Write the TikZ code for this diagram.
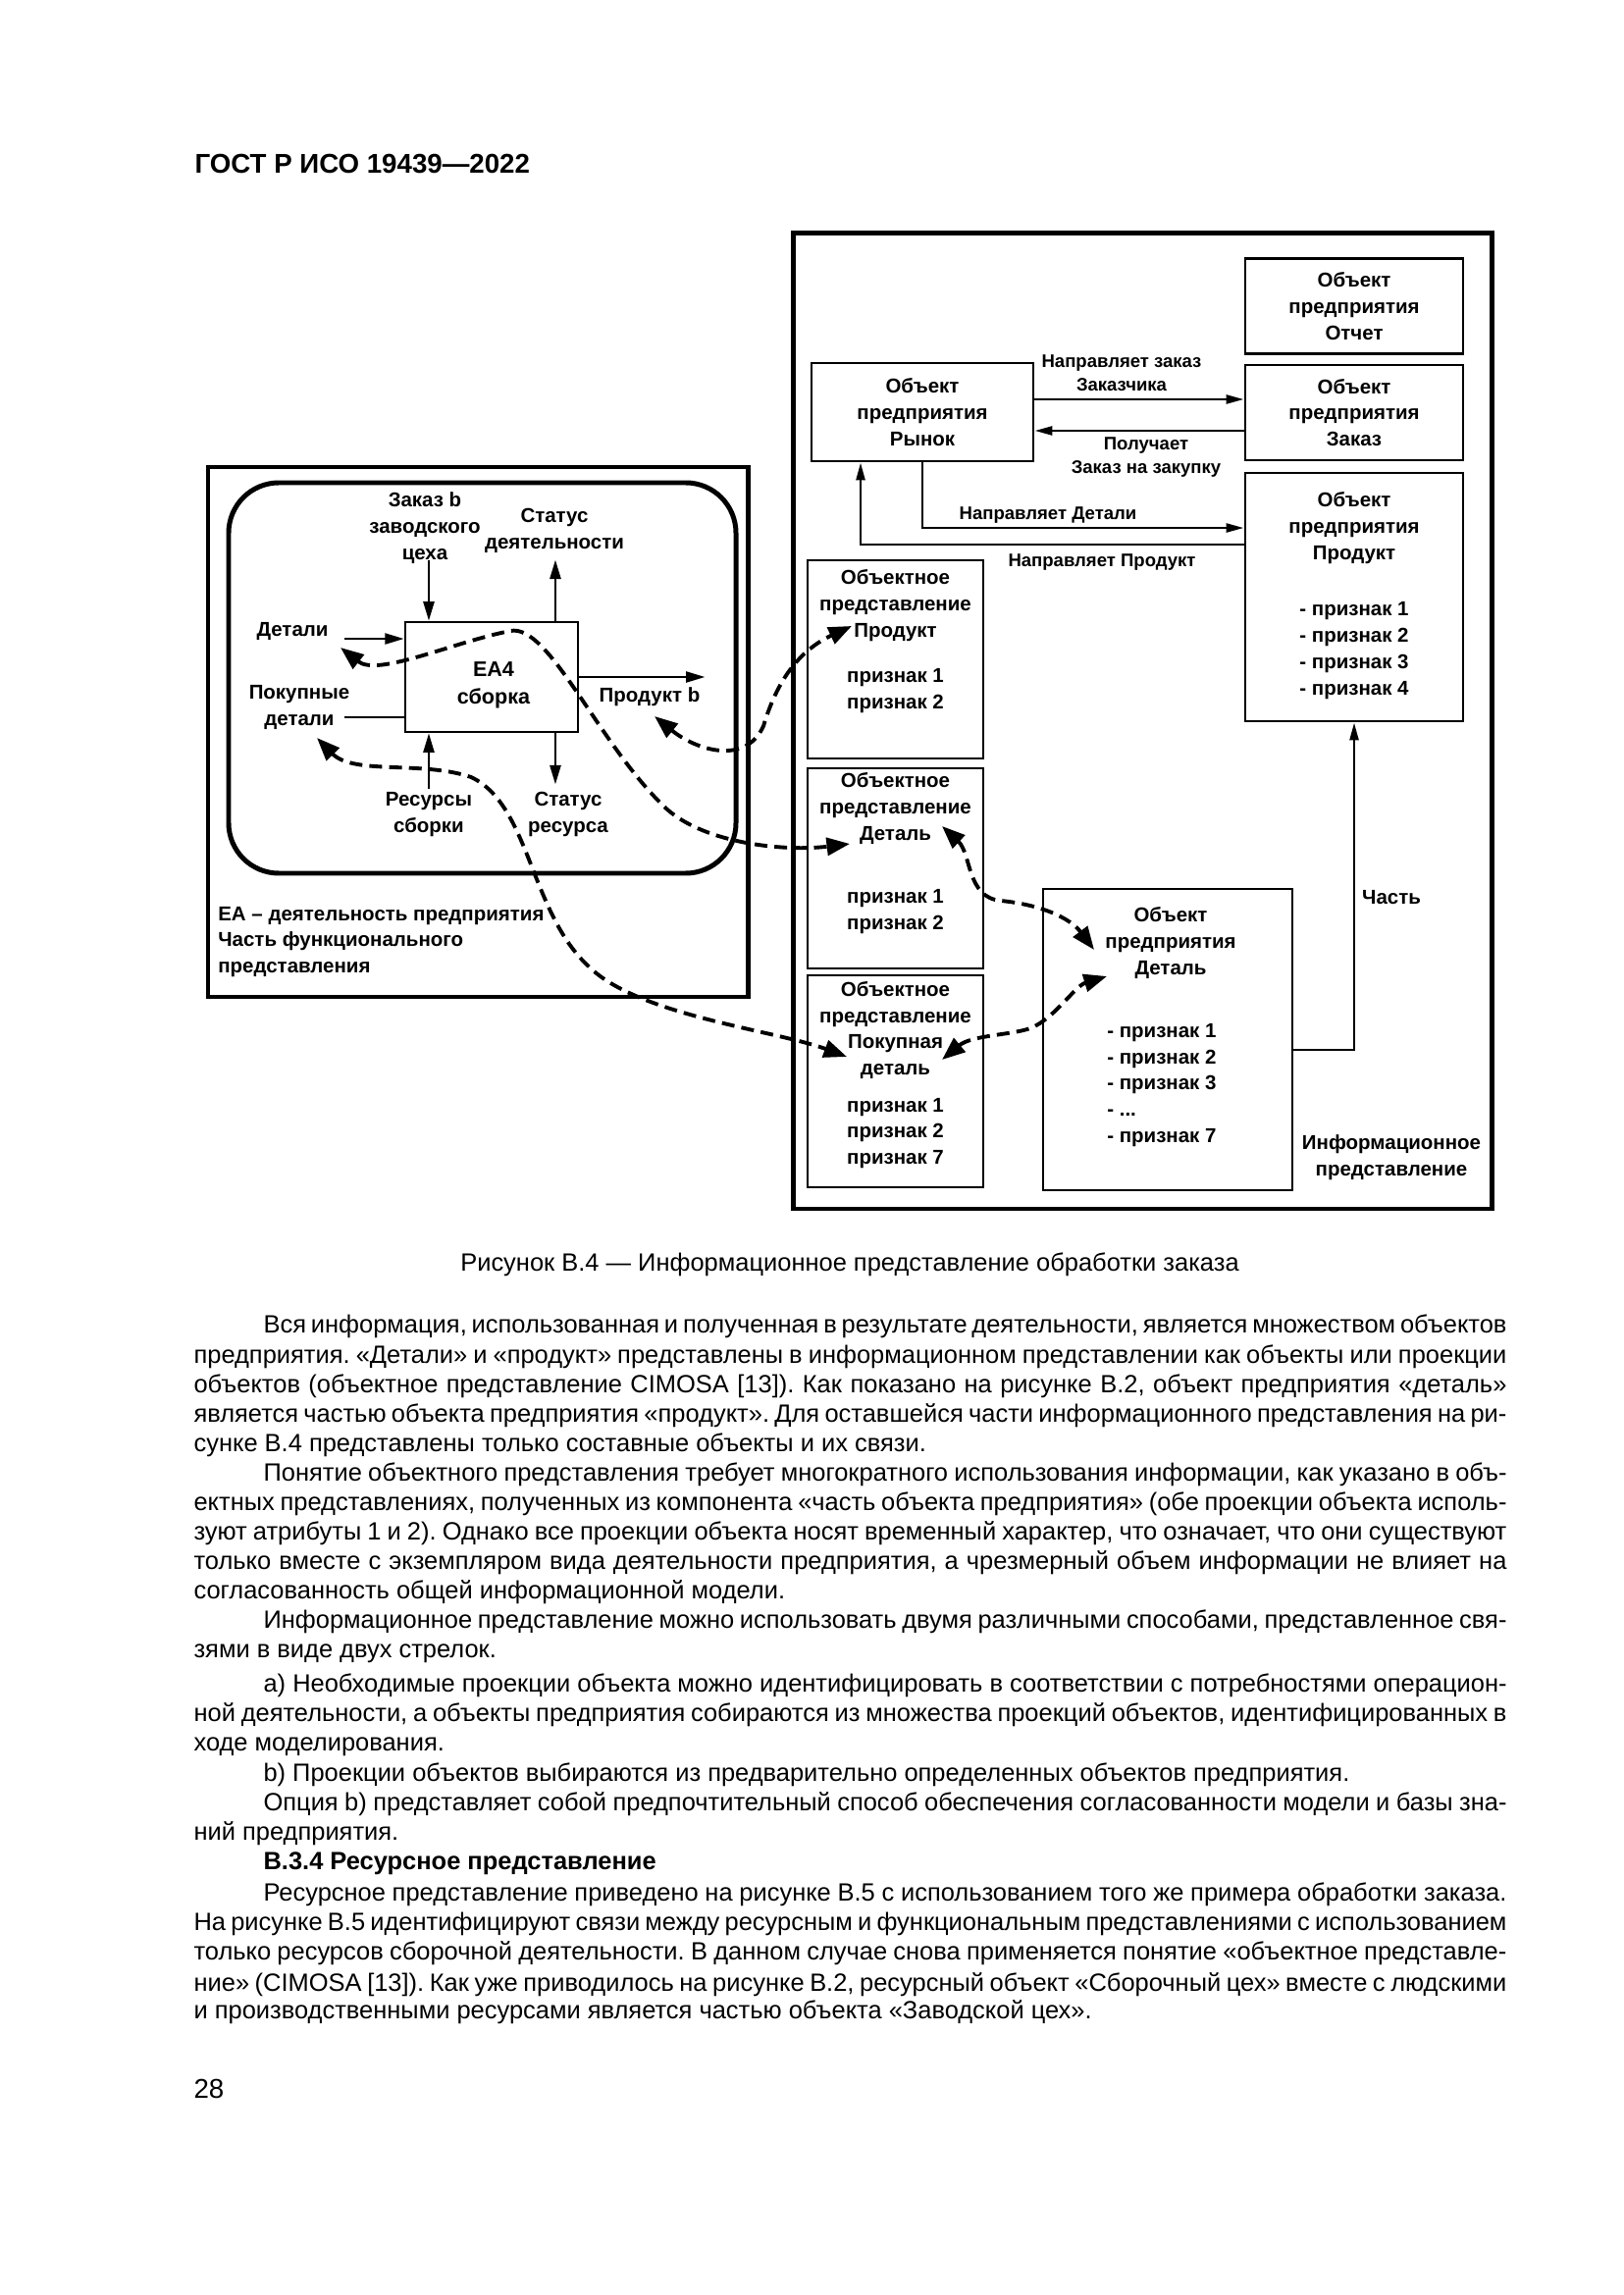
\documentclass[tikz,border=0pt]{standalone}
\usepackage{fontspec}
\setmainfont{Liberation Sans}
\usetikzlibrary{arrows.meta,calc}
\frenchspacing

\newlength\fullw \setlength\fullw{169.9mm}
\newlength\indw \setlength\indw{160.9mm}

% justified text line / plain last line
\newcommand\jline[4]{\node[btxt] (#1) at (#2) {\makebox[#3][s]{#4}};}
\newcommand\pline[3]{\node[btxt] (#1) at (#2) {#3};}

\tikzset{
  lbl/.style={font=\bfseries\fontsize{7.4}{9.7}\selectfont, align=center, inner sep=1pt},
  linklbl/.style={lbl, font=\bfseries\fontsize{6.7}{8.6}\selectfont},
  sz/.style 2 args={minimum width=#1*0.127mm, minimum height=#2*0.127mm},
  frame/.style={draw, line width=1.8pt, inner sep=0pt},
  objbox/.style={draw, line width=1pt, inner sep=0pt, lbl},
  flow/.style={line width=0.8pt, -{Triangle[length=7pt,width=4pt]}},
  link/.style={line width=1pt, -{Triangle[length=6.5pt,width=3.2pt]}},
  dlink/.style={line width=1.4pt, dash pattern=on 4.7pt off 2.6pt,
    {Triangle[length=8.5pt,width=6.5pt]}-{Triangle[length=8.5pt,width=6.5pt]}},
  btxt/.style={anchor=base west, inner sep=0pt, font=\fontsize{9.2}{11}\selectfont},
}

\begin{document}
\begin{tikzpicture}[x=0.127mm, y=-0.127mm, >=Latex]

\path[use as bounding box] (0,0) rectangle (1654,2339);

% page header
\node[font=\bfseries\fontsize{10}{12}\selectfont, anchor=base west, inner sep=0pt]
  (hdr) at (198,177) {ГОСТ Р ИСО 19439—2022};

% ---------- functional view (left) ----------
\node[frame, sz={550}{540}] (funcview) at (487,746) {};
\node[frame, rounded corners=6.5mm, sz={517}{398}] (ctx) at (491.5,691) {};
\node[objbox, sz={176}{112}] (ea4) at (501,690) {};
\node[lbl, font=\bfseries\fontsize{7.8}{10}\selectfont] (ea4T) at (503,698) {ЕА4\\сборка};

\node[lbl] (zakaz) at (433,538) {Заказ b\\заводского\\цеха};
\node[lbl] (statd) at (565,541) {Статус\\деятельности};
\node[lbl] (detali) at (298,643) {Детали};
\node[lbl] (pokup) at (305,721) {Покупные\\детали};
\node[lbl] (prodb) at (662,710) {Продукт b};
\node[lbl] (resurs) at (437,830) {Ресурсы\\сборки};
\node[lbl] (statr) at (579,830) {Статус\\ресурса};
\node[lbl, anchor=west, align=left] (ealbl) at (219,960)
  {ЕА -- деятельность предприятия\\Часть функционального\\представления};

\draw[flow] ([shift={(-8.13mm,7.87mm)}]ea4.north) -- ([xshift=-8.13mm]ea4.north);
\draw[flow] ([xshift=8.25mm]ea4.north) -- ([shift={(8.25mm,7.87mm)}]ea4.north);
\draw[flow] ([shift={(-7.75mm,4.95mm)}]ea4.west) -- ([yshift=4.95mm]ea4.west);
\draw[line width=0.8pt] ([shift={(-7.75mm,-5.2mm)}]ea4.west) -- ([yshift=-5.2mm]ea4.west);
\draw[flow] (ea4.east) -- ([xshift=16.26mm]ea4.east);
\draw[flow] ([shift={(-8.13mm,-7.24mm)}]ea4.south) -- ([xshift=-8.13mm]ea4.south);
\draw[flow] ([xshift=8.25mm]ea4.south) -- ([shift={(8.25mm,-6.6mm)}]ea4.south);

% ---------- information view (right) ----------
\node[frame, sz={712}{994}] (infoview) at (1164,735) {};
\node[objbox, sz={226}{100}] (rynok) at (940,420) {Объект\\предприятия\\Рынок};
\node[objbox, sz={222}{97}] (otchet) at (1380,312) {Объект\\предприятия\\Отчет};
\node[objbox, sz={222}{97}] (zakazbox) at (1380,420.5) {Объект\\предприятия\\Заказ};
\node[objbox, sz={222}{253}] (produkt) at (1380,608.5) {};
\node[objbox, sz={179}{202}] (opprod) at (912.5,672) {};
\node[objbox, sz={179}{204}] (opdet) at (912.5,885) {};
\node[objbox, sz={179}{216}] (oppok) at (912.5,1102) {};
\node[objbox, sz={254}{307}] (objdet) at (1190,1059.5) {};

\node[lbl] (produktT) at (1380,538) {Объект\\предприятия\\Продукт};
\node[lbl, align=left] (produktA) at (1380,663)
  {- признак 1\\- признак 2\\- признак 3\\- признак 4};
\node[lbl] (opprodT) at (912.5,617) {Объектное\\представление\\Продукт};
\node[lbl] (opprodA) at (912.5,704) {признак 1\\признак 2};
\node[lbl] (opdetT) at (912.5,824) {Объектное\\представление\\Деталь};
\node[lbl] (opdetA) at (912.5,929) {признак 1\\признак 2};
\node[lbl] (oppokT) at (912.5,1050) {Объектное\\представление\\Покупная\\деталь};
\node[lbl] (oppokA) at (912.5,1155) {признак 1\\признак 2\\признак 7};
\node[lbl] (objdetT) at (1193,961) {Объект\\предприятия\\Деталь};
\node[lbl, anchor=west, align=left] (objdetA) at (1125,1106)
  {- признак 1\\- признак 2\\- признак 3\\- ...\\- признак 7};

\node[linklbl] (lsend) at (1143,380) {Направляет заказ\\Заказчика};
\node[linklbl] (lget) at (1168,466) {Получает\\Заказ на закупку};
\node[linklbl] (ldet) at (1068,525) {Направляет Детали};
\node[linklbl] (lprod) at (1123,573) {Направляет Продукт};
\node[lbl] (lpart) at (1418,915) {Часть};
\node[lbl] (linfo) at (1418,1180) {Информационное\\представление};

\draw[link] ([yshift=1.65mm]rynok.east) -- ([yshift=1.65mm]rynok.east -| zakazbox.west);
\draw[link] ([yshift=-2.35mm]zakazbox.west) -- ([yshift=-2.35mm]zakazbox.west -| rynok.east);
\draw[link] (rynok.south) |- ([yshift=8.95mm]produkt.west);
\draw[link] ([yshift=6.79mm]produkt.west) -| ([xshift=-8mm]rynok.south);
\draw[link] ([yshift=-1.33mm]objdet.east) -| (produkt.south);

% dashed links between views
\coordinate (eDet) at (347,660);
\coordinate (eOpDet) at (866,860);
\coordinate (ePok) at (323,752);
\coordinate (eOpPok) at (863,1077);
\coordinate (ePrb) at (667,730);
\coordinate (eOpPrb) at (868,638);
\coordinate (eOpDet2) at (960,842);
\coordinate (eObj1) at (1115,968);
\coordinate (eOpPok2) at (960,1080);
\coordinate (eObj2) at (1128,995);

\draw[dlink] (eDet) .. controls (385,690) and (460,655) .. (520,643)
  .. controls (560,635) and (610,760) .. (680,825)
  .. controls (720,860) and (800,868) .. (eOpDet);
\draw[dlink] (ePok) .. controls (360,790) and (430,775) .. (480,792)
  .. controls (540,820) and (540,930) .. (600,985)
  .. controls (650,1035) and (790,1050) .. (eOpPok);
\draw[dlink] (ePrb) .. controls (710,765) and (760,780) .. (778,740)
  .. controls (790,700) and (810,665) .. (eOpPrb);
\draw[dlink] (eOpDet2) .. controls (990,870) and (985,915) .. (1020,918)
  .. controls (1060,922) and (1090,935) .. (eObj1);
\draw[dlink] (eOpPok2) .. controls (990,1055) and (1030,1055) .. (1050,1048)
  .. controls (1075,1038) and (1095,1005) .. (eObj2);

% caption
\node[anchor=base, inner sep=0pt, font=\fontsize{9.2}{11}\selectfont] (cap) at (866,1295)
  {Рисунок В.4 — Информационное представление обработки заказа};

% body text
\jline{b1}{268,1358}{\indw}{Вся информация, использованная и полученная в результате деятельности, является множеством объектов}
\jline{b2}{197,1389}{\fullw}{предприятия. «Детали» и «продукт» представлены в информационном представлении как объекты или проекции}
\jline{b3}{197,1419}{\fullw}{объектов (объектное представление CIMOSA [13]). Как показано на рисунке В.2, объект предприятия «деталь»}
\jline{b4}{197,1449}{\fullw}{является частью объекта предприятия «продукт». Для оставшейся части информационного представления на ри-}
\pline{b5}{197,1479}{сунке В.4 представлены только составные объекты и их связи.}
\jline{b6}{268,1509}{\indw}{Понятие объектного представления требует многократного использования информации, как указано в объ-}
\jline{b7}{197,1539}{\fullw}{ектных представлениях, полученных из компонента «часть объекта предприятия» (обе проекции объекта исполь-}
\jline{b8}{197,1569}{\fullw}{зуют атрибуты 1 и 2). Однако все проекции объекта носят временный характер, что означает, что они существуют}
\jline{b9}{197,1599}{\fullw}{только вместе с экземпляром вида деятельности предприятия, а чрезмерный объем информации не влияет на}
\pline{b10}{197,1629}{согласованность общей информационной модели.}
\jline{b11}{268,1659}{\indw}{Информационное представление можно использовать двумя различными способами, представленное свя-}
\pline{b12}{197,1689}{зями в виде двух стрелок.}
\jline{b13}{268,1724}{\indw}{а) Необходимые проекции объекта можно идентифицировать в соответствии с потребностями операцион-}
\jline{b14}{197,1754}{\fullw}{ной деятельности, а объекты предприятия собираются из множества проекций объектов, идентифицированных в}
\pline{b15}{197,1784}{ходе моделирования.}
\pline{b16}{268,1815}{b) Проекции объектов выбираются из предварительно определенных объектов предприятия.}
\jline{b17}{268,1845}{\indw}{Опция b) представляет собой предпочтительный способ обеспечения согласованности модели и базы зна-}
\pline{b18}{197,1875}{ний предприятия.}
\pline{b19}{268,1905}{\bfseries В.3.4 Ресурсное представление}
\jline{b20}{268,1937}{\indw}{Ресурсное представление приведено на рисунке В.5 с использованием того же примера обработки заказа.}
\jline{b21}{197,1967}{\fullw}{На рисунке В.5 идентифицируют связи между ресурсным и функциональным представлениями с использованием}
\jline{b22}{197,1997}{\fullw}{только ресурсов сборочной деятельности. В данном случае снова применяется понятие «объектное представле-}
\jline{b23}{197,2029}{\fullw}{ние» (CIMOSA [13]). Как уже приводилось на рисунке В.2, ресурсный объект «Сборочный цех» вместе с людскими}
\pline{b24}{197,2057}{и производственными ресурсами является частью объекта «Заводской цех».}

% page number
\node[anchor=base west, inner sep=0pt, font=\fontsize{10}{12}\selectfont] (pnum) at (197,2138) {28};

\end{tikzpicture}
\end{document}
